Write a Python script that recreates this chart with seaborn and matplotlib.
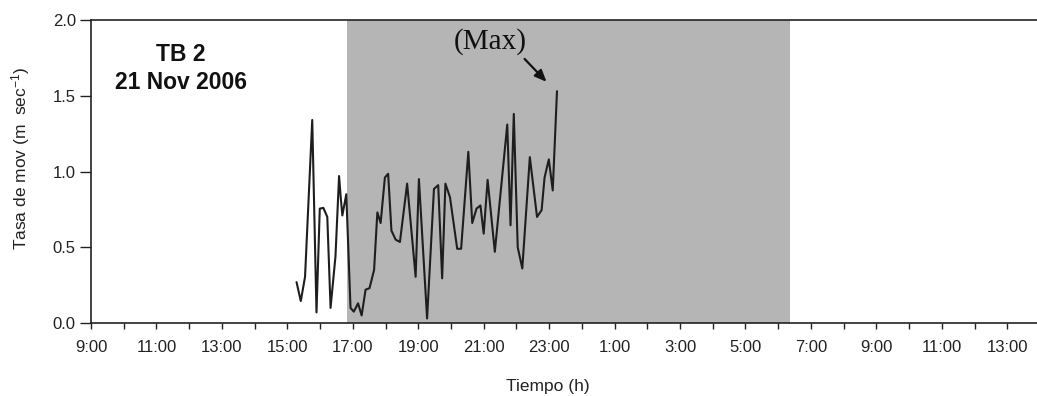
import matplotlib
matplotlib.use("Agg")
import matplotlib.pyplot as plt
import seaborn as sns
import pandas as pd

# ---- data (hours since midnight of 21 Nov; >24 = next day) ----
hours = [15.28, 15.41, 15.54, 15.76, 15.89, 15.99, 16.10, 16.22, 16.32, 16.47, 16.58,
         16.63, 16.68, 16.80, 16.93, 17.03, 17.16, 17.27, 17.39, 17.51, 17.65, 17.75,
         17.85, 17.98, 18.08, 18.18, 18.31, 18.44, 18.66, 18.92, 19.02, 19.27, 19.48,
         19.61, 19.73, 19.83, 19.97, 20.19, 20.31, 20.53, 20.65, 20.78, 20.90, 21.00,
         21.12, 21.34, 21.72, 21.82, 21.92, 22.04, 22.18, 22.41, 22.63, 22.77, 22.86,
         22.99, 23.11, 23.24]
rate = [0.27, 0.145, 0.305, 1.34, 0.07, 0.755, 0.76, 0.70, 0.10, 0.44, 0.97,
        0.83, 0.71, 0.85, 0.10, 0.075, 0.13, 0.05, 0.22, 0.23, 0.35, 0.73,
        0.66, 0.96, 0.985, 0.61, 0.55, 0.535, 0.92, 0.305, 0.95, 0.03, 0.885,
        0.91, 0.295, 0.92, 0.83, 0.49, 0.49, 1.13, 0.66, 0.755, 0.776, 0.59,
        0.945, 0.47, 1.31, 0.645, 1.38, 0.50, 0.36, 1.095, 0.70, 0.745, 0.96,
        1.08, 0.875, 1.53]
night_start, night_end = 16.81, 30.37
tick_hours = list(range(9, 38))
y_ticks = [0.0, 0.5, 1.0, 1.5, 2.0]
title_text = "TB 2\n21 Nov 2006"
max_label = "(Max)"

df = pd.DataFrame({"hora": hours, "tasa": rate})

sns.set_style("ticks")
plt.rcParams["font.family"] = ["Liberation Sans", "DejaVu Sans"]
plt.rcParams["mathtext.fontset"] = "custom"
plt.rcParams["mathtext.rm"] = "Liberation Sans"
plt.rcParams["mathtext.it"] = "Liberation Sans"

fig = plt.figure(figsize=(10.37, 3.96), dpi=100)
ax = fig.add_axes([0.0878, 0.1843, 1.0 - 0.0878, 0.9495 - 0.1843])

ax.axvspan(night_start, night_end, color="#b5b5b5", lw=0, zorder=0)
sns.lineplot(data=df, x="hora", y="tasa", ax=ax, color="#1e1e1e", lw=1.5,
             estimator=None, sort=False, zorder=3)

ax.set_xlim(9, 37.91)
ax.set_ylim(0, 2.0)
ax.set_xticks(tick_hours)
ax.set_xticklabels([f"{h % 24}:00" if h % 2 == 1 else "" for h in tick_hours])
ax.set_yticks(y_ticks)
ax.set_yticklabels([f"{v:.1f}" for v in y_ticks])

for lab in ax.get_xticklabels() + ax.get_yticklabels():
    lab.set_fontsize(12)
    lab.set_color("#222222")
ax.tick_params(axis="x", direction="out", length=4, width=1, colors="#222222", pad=8)
ax.tick_params(axis="y", direction="out", length=8, width=1, colors="#222222", pad=3)

for side in ["left", "bottom", "top"]:
    ax.spines[side].set_linewidth(1.2)
    ax.spines[side].set_color("#222222")
ax.spines["right"].set_visible(False)

ax.set_xlabel("Tiempo (h)", fontsize=12.5, color="#222222")
ax.xaxis.set_label_coords(0.483, -0.185)
ax.set_ylabel("Tasa de mov (m  sec$^{-1}$)", fontsize=12.5, color="#222222")
ax.yaxis.set_label_coords(-0.062, 0.545)

ax.text(11.74, 1.68, title_text, ha="center", va="center", fontsize=16.5,
        fontweight="bold", color="#111111", linespacing=1.3)

ax.text(21.2, 1.86, max_label, ha="center", va="center", fontsize=21,
        family=["Liberation Serif"], color="#111111")
ax.annotate("", xy=(22.92, 1.592), xytext=(22.25, 1.743),
            arrowprops=dict(arrowstyle="-|>,head_length=0.7,head_width=0.3",
                            color="#111111", lw=1.6, shrinkA=0, shrinkB=0))

fig.savefig("out.png", dpi=100)
